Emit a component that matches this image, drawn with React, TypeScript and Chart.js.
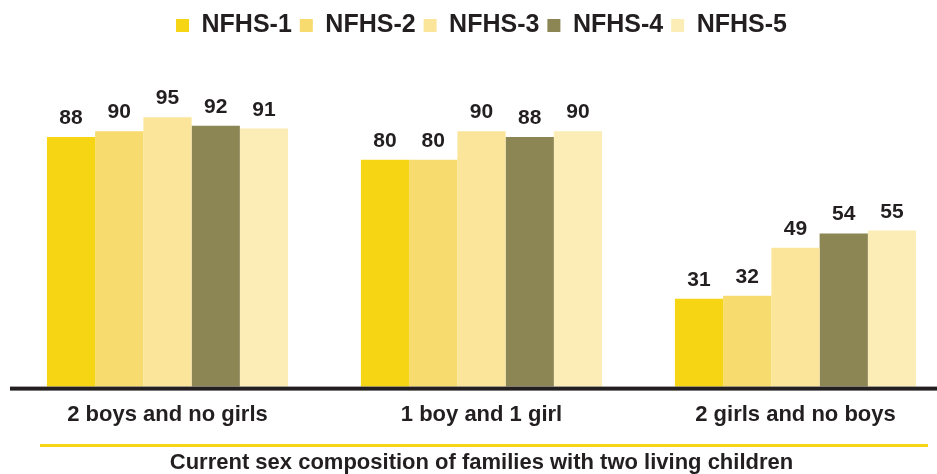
import React, { useEffect, useRef } from "react";
import { Chart, registerables } from "chart.js";

Chart.register(...registerables);

const categories = ["2 boys and no girls", "1 boy and 1 girl", "2 girls and no boys"];
const seriesNames = ["NFHS-1", "NFHS-2", "NFHS-3", "NFHS-4", "NFHS-5"];
const nfhs1 = [88, 80, 31];
const nfhs2 = [90, 80, 32];
const nfhs3 = [95, 90, 49];
const nfhs4 = [92, 88, 54];
const nfhs5 = [91, 90, 55];
const seriesColors = ["#F6D514", "#F8DB6E", "#FAE59A", "#8C8554", "#FCEDB6"];
const axisTitle = "Current sex composition of families with two living children";

const FONT = "'Liberation Sans', Arial, Helvetica, sans-serif";
const TEXT = "#231f20";

const decorPlugin = {
  id: "decor",
  beforeInit(chart: any) {
    const legend = chart.legend;
    if (legend) {
      const fit = legend.fit;
      legend.fit = function () {
        fit.call(legend);
        legend.height = 98;
      };
    }
  },
  afterDatasetsDraw(chart: any) {
    const ctx = chart.ctx;
    ctx.save();
    ctx.font = `bold 21px ${FONT}`;
    ctx.fillStyle = TEXT;
    ctx.textAlign = "center";
    ctx.textBaseline = "alphabetic";
    chart.data.datasets.forEach((ds: any, i: number) => {
      const meta = chart.getDatasetMeta(i);
      meta.data.forEach((bar: any, j: number) => {
        ctx.fillText(String(ds.data[j]), bar.x, bar.y - 13);
      });
    });
    ctx.restore();
  },
  afterDraw(chart: any) {
    const ctx = chart.ctx;
    const bottom = chart.chartArea.bottom;
    ctx.save();
    ctx.fillStyle = TEXT;
    ctx.fillRect(10, bottom, chart.width - 10, 4);
    ctx.fillStyle = "#F6D514";
    ctx.fillRect(40, chart.height - 30, 888, 3);
    ctx.restore();
  },
};

export default function App() {
  const ref = useRef<HTMLCanvasElement | null>(null);
  useEffect(() => {
    if (!ref.current) return;
    const seriesData = [nfhs1, nfhs2, nfhs3, nfhs4, nfhs5];
    const chart = new Chart(ref.current, {
      type: "bar",
      data: {
        labels: categories,
        datasets: seriesNames.map((name, i) => ({
          label: name,
          data: seriesData[i],
          backgroundColor: seriesColors[i],
          borderWidth: 0,
          clip: false as any,
          barPercentage: 1,
          categoryPercentage: 0.768,
        })),
      },
      options: {
        responsive: false,
        animation: false,
        layout: { padding: { left: 167.5, right: 141.5, top: 5, bottom: 0 } },
        scales: {
          x: {
            offset: false,
            grid: { display: false, drawTicks: false },
            border: { display: false },
            ticks: {
              autoSkip: false,
              maxRotation: 0,
              minRotation: 0,
              padding: 15,
              color: TEXT,
              font: { family: FONT, size: 22, weight: "bold" },
            },
            title: {
              display: true,
              text: axisTitle,
              color: TEXT,
              font: { family: FONT, size: 22, weight: "bold", lineHeight: 1 },
              padding: { top: 9, bottom: 0 },
            },
          },
          y: { display: false, min: 0, max: 100 },
        },
        plugins: {
          legend: {
            position: "top",
            labels: {
              boxWidth: 13,
              boxHeight: 13,
              padding: 8,
              color: TEXT,
              font: { family: FONT, size: 25, weight: "bold" },
            },
          },
          tooltip: { enabled: false },
        },
      },
      plugins: [decorPlugin],
    } as any);
    return () => chart.destroy();
  }, []);
  return (
    <div style={{ position: "fixed", left: 0, top: 0, width: 937, height: 474, background: "#fff" }}>
      <canvas ref={ref} width={937} height={474} />
    </div>
  );
}
